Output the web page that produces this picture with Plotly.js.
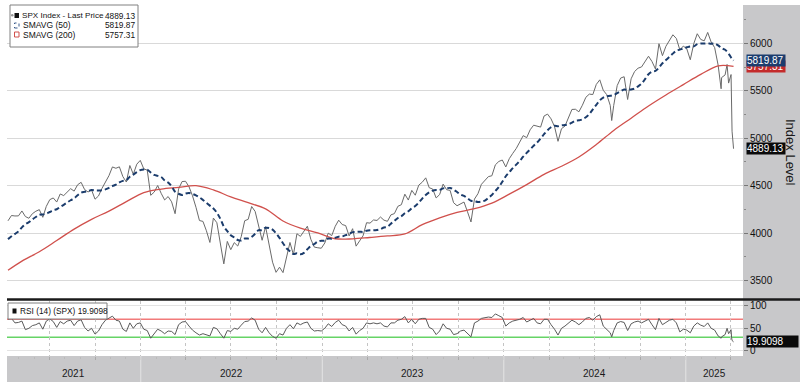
<!DOCTYPE html>
<html><head><meta charset="utf-8">
<script src="https://cdn.plot.ly/plotly-3.0.1.min.js"></script>
<style>html,body{margin:0;padding:0;background:#fff;}#chart{width:800px;height:387px;}</style>
</head><body><div id="chart"></div>
<script>
// ---------- DATA ----------
const firstWeek = '2021-04-09';   // weekly closes, one value per Friday
const weeklyPrice = [
4129,4185,4180,4181,4233,4174,4156,4204,4230,4247,
4166,4281,4352,4370,4327,4412,4395,4437,4468,4442,
4509,4535,4459,4433,4455,4357,4391,4471,4545,4605,
4697,4683,4698,4595,4538,4712,4620,4726,4766,4677,
4663,4398,4432,4501,4419,4349,4385,4329,4204,4463,
4543,4546,4488,4393,4272,4132,4123,4024,3901,4158,
4109,3901,3675,3912,3825,3899,3863,3962,4130,4145,
4280,4228,4058,3924,4067,3873,3693,3586,3640,3583,
3752,3901,3771,3993,3965,4026,4072,3934,3852,3845,
3840,3895,3999,3973,4071,4136,4090,4079,3970,4046,
3862,3917,3971,4109,4105,4138,4133,4169,4136,4124,
4192,4205,4282,4299,4410,4348,4450,4399,4505,4536,
4582,4478,4464,4370,4406,4516,4457,4450,4320,4288,
4309,4327,4224,4117,4358,4415,4514,4559,4595,4604,
4719,4755,4770,4697,4784,4840,4891,4959,5027,5006,
5089,5137,5124,5117,5234,5254,5204,5123,4967,5100,
5128,5223,5303,5305,5278,5347,5431,5465,5460,5567,
5615,5505,5459,5346,5344,5554,5634,5648,5408,5626,
5703,5738,5751,5815,5864,5808,5729,5996,5870,5969,
6032,6090,6051,5931,5971,5942,5827,5997,6101,6041,
6026,6115,6013,5955,5770,5639,5667,5581];
const weeklySma50 = [
3936,3966,3991,4018,4060,4093,4115,4144,4169,4192,
4196,4205,4222,4241,4251,4275,4298,4322,4346,4365,
4399,4425,4435,4442,4455,4449,4449,4452,4460,4476,
4495,4510,4534,4550,4558,4594,4616,4642,4664,4671,
4668,4639,4613,4603,4591,4555,4532,4492,4436,4414,
4402,4417,4423,4412,4397,4376,4349,4319,4289,4258,
4215,4150,4069,4021,3976,3953,3927,3921,3943,3942,
3959,3992,4030,4031,4056,4053,4036,3998,3949,3893,
3840,3808,3779,3786,3776,3791,3829,3864,3885,3911,
3920,3919,3942,3940,3951,3962,3964,3978,3990,4010,
4012,4014,4012,4025,4029,4029,4033,4042,4059,4066,
4099,4128,4159,4178,4209,4230,4262,4285,4321,4363,
4402,4429,4447,4454,4454,4471,4471,4476,4458,4433,
4406,4391,4367,4341,4337,4327,4332,4343,4371,4402,
4443,4486,4541,4599,4641,4684,4721,4761,4805,4845,
4882,4920,4955,4997,5042,5084,5115,5132,5126,5135,
5139,5147,5165,5184,5189,5198,5221,5255,5304,5351,
5399,5428,5443,5447,5454,5475,5495,5513,5508,5514,
5523,5546,5575,5622,5674,5700,5709,5744,5790,5824,
5857,5892,5922,5934,5945,5958,5968,5968,5991,5998,
5998,6000,5996,5999,5979,5948,5932,5891];
const weeklyRsi = [
70,72,62,63,66,47,50,56,58,62,
48,66,71,65,52,65,60,66,68,56,
66,69,52,44,50,37,44,58,68,72,
77,68,66,48,43,62,50,60,62,48,
45,28,38,48,44,38,44,43,36,58,
64,65,55,46,40,35,38,36,33,52,
49,38,28,45,43,50,48,57,65,66,
73,68,48,40,52,40,32,28,38,35,
50,58,49,62,58,62,64,50,44,45,
44,50,60,54,63,68,58,55,44,52,
37,45,50,62,60,62,60,62,55,53,
62,62,68,70,76,62,70,60,70,72,
72,52,48,36,44,60,50,48,36,38,
44,46,38,31,62,66,72,74,75,74,
82,78,74,55,62,66,68,70,74,64,
68,72,62,60,70,70,58,48,35,50,
55,62,68,64,58,64,72,74,68,76,
80,55,48,40,45,62,65,63,45,60,
64,66,62,66,70,58,47,72,58,63,
68,70,62,42,48,46,40,55,62,57,
54,62,50,46,33,31,36,38];
// extra daily observations
const extraDates = ['2024-08-05','2025-03-13','2025-03-25','2025-04-02','2025-04-03','2025-04-04','2025-04-07'];
const extraPrice = [5186,5521,5777,5671,5397,5074,4889.13];
const extraRsi   = [31,28,50,47,30,23,19.9098];
const sma50TailDates = ['2025-04-04','2025-04-07'];
const sma50Tail = [5836,5819.87];
const sma200Dates = ['2021-04-09','2021-05-07','2021-06-11','2021-07-16','2021-08-20','2021-09-24','2021-10-29','2021-12-03',
'2022-01-07','2022-02-11','2022-03-18','2022-04-22','2022-05-27','2022-07-01','2022-08-05','2022-09-09','2022-10-14','2022-11-18','2022-12-23',
'2023-01-27','2023-03-03','2023-04-06','2023-05-12','2023-06-16','2023-07-21','2023-08-25','2023-09-29','2023-11-03','2023-12-08',
'2024-01-12','2024-02-16','2024-03-22','2024-04-26','2024-05-31','2024-07-05','2024-08-09','2024-09-13','2024-10-18','2024-11-22','2024-12-27',
'2025-01-31','2025-03-07','2025-04-07'];
const sma200 = [3607,3704,3803,3921,4042,4145,4232,4331,
4426,4464,4482,4500,4455,4381,4321,4255,4127,4051,4001,
3940,3939,3953,3970,3991,4088,4160,4218,4257,4316,
4410,4511,4619,4704,4802,4933,5082,5211,5340,5456,5565,
5672,5763,5757.31];
const priceTicks = [3500,4000,4500,5000,5500,6000];
const rsiTicks = [0,50,100];
const years = ['2021','2022','2023','2024','2025'];
const yearLabelDates = ['2021-08-19','2022-07-02','2023-07-02','2024-07-02','2025-02-28'];
const yearBreaks = ['2022-01-01','2023-01-01','2024-01-01','2025-01-01'];
const last = {price: 4889.13, sma50: 5819.87, sma200: 5757.31, rsi: 19.9098};

// ---------- BUILD ----------
function addDays(s, n){ const d = new Date(s+'T00:00:00Z'); d.setUTCDate(d.getUTCDate()+n); return d.toISOString().slice(0,10); }
const weekDates = weeklyPrice.map((_, i) => addDays(firstWeek, 7*i));
const rows = weekDates.map((d,i)=>[d, weeklyPrice[i], weeklyRsi[i]])
  .concat(extraDates.map((d,i)=>[d, extraPrice[i], extraRsi[i]]))
  .sort((a,b)=> a[0] < b[0] ? -1 : 1);
const pDates = rows.map(r=>r[0]), pVals = rows.map(r=>r[1]), rVals = rows.map(r=>r[2]);
const s50Dates = weekDates.concat(sma50TailDates), s50Vals = weeklySma50.concat(sma50Tail);

const L = 7, R = 743, T = 5, B = 356;
const px = x => (x - L) / (R - L);
const py = y => (B - y) / (B - T);
const FN = 'Liberation Sans, Arial, sans-serif';
const xr = ['2021-04-07','2025-04-26'];

const traces = [
  {x:pDates, y:pVals, type:'scatter', mode:'lines', xaxis:'x', yaxis:'y', line:{color:'#6a6a6a', width:1}},
  {x:sma200Dates, y:sma200, type:'scatter', mode:'lines', xaxis:'x', yaxis:'y', line:{color:'#d0504c', width:1.3, shape:'spline'}},
  {x:s50Dates, y:s50Vals, type:'scatter', mode:'lines', xaxis:'x', yaxis:'y', line:{color:'#1b3c6c', width:2, dash:'5px,3px', shape:'spline'}},
  {x:pDates, y:rVals, type:'scatter', mode:'lines', xaxis:'x2', yaxis:'y2', line:{color:'#5a5a5a', width:1}}
];

const gray = '#c8c8ca';
const shapes = [
  {type:'rect', xref:'paper', yref:'paper', x0:1, x1:px(800), y0:py(382), y1:1, fillcolor:gray, line:{width:0}, layer:'below'},
  {type:'rect', xref:'paper', yref:'paper', x0:0, x1:px(800), y0:py(382), y1:0, fillcolor:gray, line:{width:0}, layer:'below'},
  {type:'line', xref:'paper', yref:'y2', x0:0, x1:1, y0:70, y1:70, line:{color:'#f27a7a', width:1.5}, layer:'below'},
  {type:'line', xref:'paper', yref:'y2', x0:0, x1:1, y0:30, y1:30, line:{color:'#66d466', width:1.5}, layer:'below'},
  {type:'line', xref:'paper', yref:'paper', x0:0, x1:px(800), y0:py(299.5), y1:py(299.5), line:{color:'#1a1a1a', width:2.5}},
  {type:'rect', xref:'paper', yref:'paper', x0:px(10), x1:px(138), y0:py(47), y1:py(5), fillcolor:'#ffffff', line:{color:'#808080', width:1}},
  {type:'circle', xref:'paper', yref:'paper', x0:px(11), x1:px(13.5), y0:py(16.5), y1:py(14), fillcolor:'#999', line:{width:0}},
  {type:'rect', xref:'paper', yref:'paper', x0:px(14.5), x1:px(19), y0:py(18), y1:py(13), fillcolor:'#111', line:{width:0}},
  {type:'rect', xref:'paper', yref:'paper', x0:px(14.5), x1:px(19), y0:py(28), y1:py(23), fillcolor:'#fff', line:{color:'#3a5a8a', width:1, dash:'dot'}},
  {type:'rect', xref:'paper', yref:'paper', x0:px(14.5), x1:px(19), y0:py(37), y1:py(32), fillcolor:'#fff', line:{color:'#d0504c', width:1}},
  {type:'rect', xref:'paper', yref:'paper', x0:px(8), x1:px(107), y0:py(319), y1:py(303), fillcolor:'#ffffff', line:{color:'#808080', width:1}},
  {type:'rect', xref:'paper', yref:'paper', x0:px(12.5), x1:px(16.5), y0:py(313.5), y1:py(308.5), fillcolor:'#111', line:{width:0}}
];
yearBreaks.forEach(d => shapes.push({type:'line', xref:'x2', yref:'paper', x0:d, x1:d, y0:py(382), y1:0, line:{color:'#e4e4e4', width:1}}));

const ann = [];
const txt = (x, y, t, anchor, size) => ann.push({xref:'paper', yref:'paper', x:px(x), y:py(y), text:t, showarrow:false,
  xanchor:anchor, yanchor:'middle', font:{family:FN, size:size, color:'#111'}});
txt(19.5, 15.5, 'SPX Index - Last Price', 'left', 8.1);
txt(136.5, 15.5, last.price.toFixed(2), 'right', 8.3);
txt(21, 25.5, 'SMAVG (50)', 'left', 8.5);
txt(136.5, 25.5, last.sma50.toFixed(2), 'right', 8.3);
txt(21, 34.5, 'SMAVG (200)', 'left', 8.5);
txt(136.5, 34.5, last.sma200.toFixed(2), 'right', 8.3);
txt(17.5, 311, 'RSI (14) (SPX) ' + last.rsi.toFixed(4), 'left', 8.3);
years.forEach((y,i) => ann.push({xref:'x2', yref:'paper', x:yearLabelDates[i], y:py(373), text:y, showarrow:false,
  xanchor:'center', yanchor:'middle', font:{family:FN, size:10, color:'#1a1a1a'}}));
ann.push({xref:'paper', yref:'paper', x:px(790), y:py(152), text:'Index Level', textangle:90, showarrow:false,
  xanchor:'center', yanchor:'middle', font:{family:FN, size:13, color:'#1a1a1a'}});
const tag = (yref, val, text, bg, w) => ann.push({xref:'paper', yref:yref, x:px(745.5), y:val, text:text, showarrow:false,
  xanchor:'left', yanchor:'middle', bgcolor:bg, borderpad:0, width:w, align:'left',
  font:{family:FN, size:10, color:'#ffffff'}});
tag('y', last.sma200, last.sma200.toFixed(2), '#c42b2b', 38);
tag('y', last.sma50, last.sma50.toFixed(2), '#1c3d6e', 38);
tag('y', last.price, last.price.toFixed(2), '#0a0a0a', 38);
tag('y2', last.rsi, last.rsi.toFixed(4), '#0a0a0a', 51);

const tickFont = {family:FN, size:10, color:'#111'};
const layout = {
  width:800, height:387, margin:{l:L, r:800-R, t:T, b:387-B},
  paper_bgcolor:'#ffffff', plot_bgcolor:'#ffffff', showlegend:false,
  xaxis:{type:'date', range:xr, domain:[0,1], anchor:'y', showticklabels:false, showgrid:false, zeroline:false, ticks:''},
  yaxis:{domain:[py(297),1], range:[3326,6404], side:'right', anchor:'x', tickmode:'array', tickvals:priceTicks,
    ticks:'outside', ticklen:4, tickcolor:'#777', tickfont:tickFont, gridcolor:'#d9d9d9', gridwidth:1, zeroline:false,
    minor:{tickmode:'linear', tick0:0, dtick:250, ticks:'outside', ticklen:2, tickcolor:'#888', showgrid:false}},
  xaxis2:{type:'date', range:xr, domain:[0,1], anchor:'y2', showticklabels:false, showgrid:true, gridcolor:'#c4c4c4', griddash:'dot',
    dtick:'M3', tick0:'2021-01-01', ticks:'outside', ticklen:3, tickcolor:'#aaa', zeroline:false,
    minor:{dtick:'M1', tick0:'2021-01-01', ticks:'outside', ticklen:2, tickcolor:'#bbb', showgrid:false}},
  yaxis2:{domain:[0,py(301)], range:[-11.6,110.7], side:'right', anchor:'x2', tickmode:'array', tickvals:rsiTicks,
    ticks:'outside', ticklen:4, tickcolor:'#777', tickfont:tickFont, gridcolor:'#e3e3e3', zeroline:false},
  shapes:shapes, annotations:ann
};
Plotly.newPlot('chart', traces, layout, {displayModeBar:false, staticPlot:true});
</script></body></html>
